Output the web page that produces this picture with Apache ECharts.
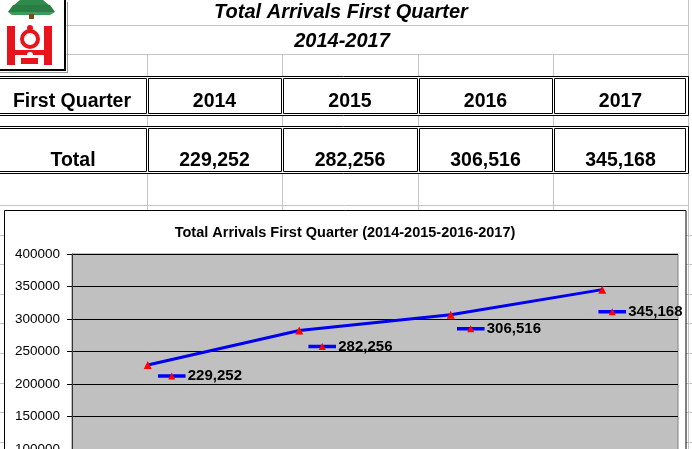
<!DOCTYPE html>
<html>
<head>
<meta charset="UTF-8">
<title>Total Arrivals First Quarter</title>
<script src="https://cdn.jsdelivr.net/npm/echarts/dist/echarts.min.js"></script>
<style>
html,body{margin:0;padding:0;background:#fff;overflow:hidden;}
</style>
</head>
<body>
<div id="main" style="width:692px;height:449px;"></div>
<script>
// data
var years = ['2014', '2015', '2016', '2017'];
var arrivals = [229252, 282256, 306516, 345168];
var headLabel = 'First Quarter';
var rowLabel = 'Total';
var pageTitle = 'Total Arrivals First Quarter';
var pageSub = '2014-2017';
var chartTitle = 'Total Arrivals First Quarter (2014-2015-2016-2017)';
var yMin = 0, yMax = 400000, yStep = 50000;

var FONT = '"Liberation Sans", Arial, sans-serif';
var chart = echarts.init(document.getElementById('main'));

function fmt(v) {
    return v.toString().replace(/\B(?=(\d{3})+(?!\d))/g, ',');
}

// spreadsheet layout
var colX = [0, 147, 282, 418, 553, 688];
var rows = [[76, 116], [126, 174]];
var sheetGray = '#c4c4c4';
var g = [];

function line(x1, y1, x2, y2, color, w, z) {
    g.push({type: 'line', z: z, silent: true,
        shape: {x1: x1, y1: y1, x2: x2, y2: y2},
        style: {stroke: color, lineWidth: w}});
}
function text(str, x, y, font, z) {
    g.push({type: 'text', z: z, silent: true,
        style: {text: str, x: x, y: y, font: font, fill: '#000',
            align: 'center', verticalAlign: 'middle',
            textAlign: 'center', textVerticalAlign: 'middle'}});
}

// sheet gridlines
line(65, 25.5, 689, 25.5, sheetGray, 1, -20);
line(65, 54.5, 689, 54.5, sheetGray, 1, -20);
line(0, 205.5, 689, 205.5, sheetGray, 1, -20);
for (var r = 1; r < 9; r++) {
    var yy = Math.round(205 + r * 29.6) + 0.5;
    line(0, yy, 692, yy, sheetGray, 1, -20);
}
for (var c = 1; c < colX.length - 1; c++) {
    line(colX[c] + 0.5, 54, colX[c] + 0.5, 449, sheetGray, 1, -20);
}
line(688.5, 0, 688.5, 449, sheetGray, 1, -20);

// logo
g.push({type: 'rect', z: -15, silent: true, shape: {x: 0, y: 0, width: 66, height: 71}, style: {fill: '#fff'}});
line(65, 0, 65, 71, '#000', 2, -14);
line(0, 70, 66, 70, '#000', 2, -14);
line(67.5, 2, 67.5, 72, '#999', 1, -14);
line(0, 72.5, 68, 72.5, '#999', 1, -14);
g.push({type: 'polygon', z: -14, silent: true, shape: {points: [[20, 0], [43, 0], [49, 5], [14, 5]]}, style: {fill: '#2e8b4a'}});
g.push({type: 'polygon', z: -14, silent: true, shape: {points: [[13, 5], [50, 5], [55, 12], [8, 12]]}, style: {fill: '#2a7d45'}});
g.push({type: 'polygon', z: -14, silent: true, shape: {points: [[8, 12], [55, 12], [50, 15], [12, 15]]}, style: {fill: '#3c9c5a'}});
g.push({type: 'rect', z: -14, silent: true, shape: {x: 29, y: 14, width: 5, height: 5}, style: {fill: '#7a4a1e'}});
g.push({type: 'rect', z: -14, silent: true, shape: {x: 7, y: 26, width: 8, height: 39}, style: {fill: '#e8141b'}});
g.push({type: 'rect', z: -14, silent: true, shape: {x: 44, y: 26, width: 8, height: 39}, style: {fill: '#e8141b'}});
g.push({type: 'circle', z: -14, silent: true, shape: {cx: 30, cy: 28, r: 3}, style: {fill: '#e8141b'}});
g.push({type: 'arc', z: -14, silent: true, shape: {cx: 30, cy: 39, r: 8, startAngle: 0, endAngle: Math.PI * 2}, style: {stroke: '#e8141b', lineWidth: 4, fill: 'none'}});
g.push({type: 'rect', z: -14, silent: true, shape: {x: 15, y: 50, width: 29, height: 5}, style: {fill: '#e8141b'}});
g.push({type: 'rect', z: -14, silent: true, shape: {x: 21, y: 58, width: 17, height: 6}, style: {fill: '#e8141b'}});
g.push({type: 'circle', z: -14, silent: true, shape: {cx: 30, cy: 55, r: 3}, style: {fill: '#fff'}});

// page titles
text(pageTitle, 341, 12, 'italic bold 20px ' + FONT, 10);
text(pageSub, 342, 41, 'italic bold 20px ' + FONT, 10);

// table boxes (double borders)
for (var i = 0; i < rows.length; i++) {
    var t = rows[i][0], b = rows[i][1];
    g.push({type: 'rect', z: 5, silent: true,
        shape: {x: -1.5, y: t + 0.5, width: 690, height: b - t - 1},
        style: {fill: '#fff', stroke: '#000', lineWidth: 1}});
    for (var c2 = 0; c2 < colX.length - 1; c2++) {
        var x0 = c2 === 0 ? -5 : colX[c2] + 1.5;
        var x1 = colX[c2 + 1] - 0.5;
        if (c2 === colX.length - 2) x1 = colX[c2 + 1] - 2.5;
        g.push({type: 'rect', z: 6, silent: true,
            shape: {x: x0, y: t + 2.5, width: x1 - x0, height: b - t - 5},
            style: {fill: 'none', stroke: '#000', lineWidth: 1}});
    }
}
var cellFont = 'bold 19.5px ' + FONT;
text(headLabel, 72, 102, cellFont, 10);
text(rowLabel, 73, 161, cellFont, 10);
for (var k = 0; k < years.length; k++) {
    var cx = (colX[k + 1] + colX[k + 2]) / 2;
    text(years[k], cx, 102, cellFont, 10);
    text(fmt(arrivals[k]), cx, 161, cellFont, 10);
}

// chart area box
g.push({type: 'rect', z: -10, silent: true,
    shape: {x: 4.5, y: 210.5, width: 681.5, height: 260},
    style: {fill: '#fff', stroke: '#000', lineWidth: 1}});
text(chartTitle, 345, 233, 'bold 14.5px ' + FONT, 10);

// legend key drawn next to each data label (Excel style)
var keySvg = '<svg xmlns="http://www.w3.org/2000/svg" width="28" height="10">' +
    '<line x1="0" y1="5" x2="28" y2="5" stroke="#0000ff" stroke-width="3.5"/>' +
    '<polygon points="10.5,8.5 14,1.5 17.5,8.5" fill="#ff0000"/></svg>';
var keyImg = 'data:image/svg+xml;charset=utf-8,' + encodeURIComponent(keySvg);

// label nudges, like Excel placed them
var labelNudge = [[6, 11], [5, 16], [2, 14], [-8, 22]];
var seriesData = [];
for (var n = 0; n < arrivals.length; n++) {
    seriesData.push({value: arrivals[n], label: {offset: labelNudge[n]}});
}

var option = {
    animation: false,
    backgroundColor: '#fff',
    graphic: {elements: g},
    grid: {
        left: 72, top: 254, width: 606, height: 260,
        outerBoundsMode: 'none',
        containLabel: false,
        show: true, backgroundColor: '#c0c0c0',
        borderColor: '#808080', borderWidth: 1
    },
    xAxis: {
        type: 'category',
        data: years,
        boundaryGap: true,
        axisLine: {show: false},
        axisTick: {show: false},
        axisLabel: {show: false}
    },
    yAxis: {
        type: 'value',
        min: yMin,
        max: yMax,
        interval: yStep,
        axisLine: {show: true, lineStyle: {color: '#333', width: 1}},
        axisTick: {show: true, length: 5, lineStyle: {color: '#000'}},
        axisLabel: {
            color: '#000', fontSize: 13.5, fontFamily: FONT, margin: 12,
            formatter: function (v) { return String(v); }
        },
        splitLine: {show: true, lineStyle: {color: '#000', width: 1}}
    },
    series: [{
        type: 'line',
        data: seriesData,
        symbol: 'triangle',
        symbolSize: 8,
        itemStyle: {color: '#ff0000'},
        lineStyle: {color: '#0000ee', width: 3},
        label: {
            show: true,
            position: 'right',
            distance: 0,
            formatter: function (p) {
                return '{k|\u00a0}{v|' + fmt(p.value) + '}';
            },
            rich: {
                k: {width: 28, height: 10, backgroundColor: {image: keyImg}},
                v: {color: '#000', fontSize: 15, fontWeight: 'bold', fontFamily: FONT, padding: [0, 0, 0, 2]}
            }
        }
    }]
};
chart.setOption(option);
</script>
</body>
</html>
